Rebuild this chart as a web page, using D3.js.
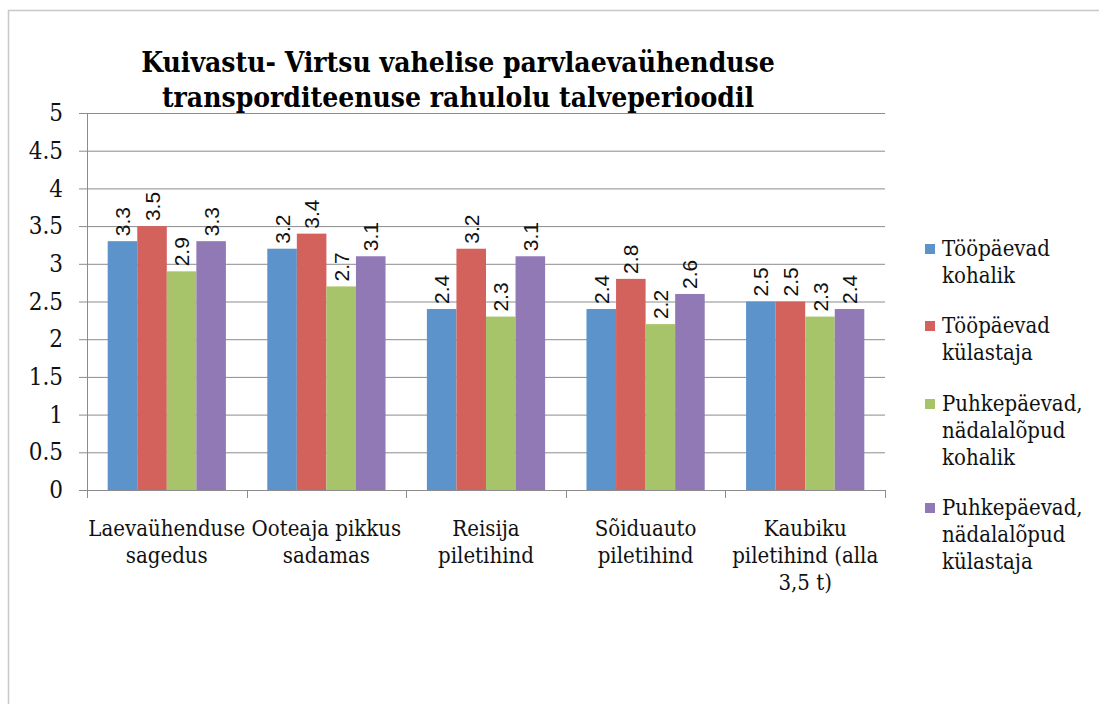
<!DOCTYPE html>
<html lang="et">
<head>
<meta charset="utf-8">
<script src="https://d3js.org/d3.v7.min.js"></script>
<style>
  body { margin: 0; background: #fff; }
  svg { display: block; }
  .serif { font-family: "DejaVu Serif Condensed", "DejaVu Serif", serif; font-stretch: condensed; }
  .sans { font-family: "Liberation Sans", Arial, sans-serif; }
</style>
</head>
<body>
<svg id="chart" width="1099" height="704"></svg>
<script>
// data
const categories = [
  ["Laevaühenduse", "sagedus"],
  ["Ooteaja pikkus", "sadamas"],
  ["Reisija", "piletihind"],
  ["Sõiduauto", "piletihind"],
  ["Kaubiku", "piletihind (alla", "3,5 t)"]
];
const seriesNames = [
  ["Tööpäevad", "kohalik"],
  ["Tööpäevad", "külastaja"],
  ["Puhkepäevad,", "nädalalõpud", "kohalik"],
  ["Puhkepäevad,", "nädalalõpud", "külastaja"]
];
const tookohalik   = [3.3, 3.2, 2.4, 2.4, 2.5];
const tookylastaja = [3.5, 3.4, 3.2, 2.8, 2.5];
const puhkkohalik  = [2.9, 2.7, 2.3, 2.2, 2.3];
const puhkkylastaja = [3.3, 3.1, 3.1, 2.6, 2.4];
const series = [tookohalik, tookylastaja, puhkkohalik, puhkkylastaja];
const yTicks = [0, 0.5, 1, 1.5, 2, 2.5, 3, 3.5, 4, 4.5, 5];
const colors = ["#5b93ca", "#d3625c", "#a8c46a", "#9179b5"];

const svg = d3.select("#chart");

// outer frame
svg.append("path")
  .attr("d", "M8.5,704 V10.5 H1099")
  .attr("fill", "none").attr("stroke", "#c8c8c8").attr("stroke-width", 1.5);

// title
const title = ["Kuivastu- Virtsu vahelise parvlaevaühenduse",
               "transporditeenuse rahulolu talveperioodil"];
svg.append("g").selectAll("text").data(title).join("text")
  .attr("class", "serif")
  .attr("x", 458).attr("y", (d, i) => 72 + i * 35)
  .attr("text-anchor", "middle")
  .attr("font-weight", "bold").attr("font-size", 28)
  .text(d => d);

const margin = { left: 87, right: 885, top: 113, bottom: 490 };

const x = d3.scaleBand().domain(d3.range(categories.length))
  .range([margin.left, margin.right]).paddingInner(0).paddingOuter(0);
const xs = d3.scaleBand().domain(d3.range(series.length))
  .range([0, x.bandwidth()]).paddingOuter(0.7).paddingInner(0);
const y = d3.scaleLinear().domain([0, 5]).range([margin.bottom, margin.top]);

// gridlines + y axis
const yAxis = svg.append("g").attr("transform", `translate(${margin.left},0)`)
  .call(d3.axisLeft(y).tickValues(yTicks).tickSize(8).tickFormat(d3.format("")));
yAxis.attr("font-family", null);
yAxis.select(".domain").remove();
yAxis.selectAll(".tick line").attr("stroke", "#8c8c8c");
yAxis.selectAll(".tick text")
  .attr("class", "serif")
  .attr("x", -24).attr("font-size", 24).attr("fill", "#111");
svg.append("g").selectAll("line").data(yTicks).join("line")
  .attr("x1", margin.left).attr("x2", margin.right)
  .attr("y1", d => y(d) + 0.5).attr("y2", d => y(d) + 0.5)
  .attr("stroke", "#8c8c8c").attr("stroke-width", 1);
svg.append("line")
  .attr("x1", margin.left + 0.5).attr("x2", margin.left + 0.5)
  .attr("y1", margin.top).attr("y2", margin.bottom)
  .attr("stroke", "#8c8c8c");

// x axis ticks
const xTickPos = d3.range(categories.length + 1).map(i => margin.left + i * x.bandwidth());
svg.append("g").selectAll("line").data(xTickPos).join("line")
  .attr("x1", d => Math.round(d) + 0.5).attr("x2", d => Math.round(d) + 0.5)
  .attr("y1", margin.bottom).attr("y2", margin.bottom + 8)
  .attr("stroke", "#8c8c8c");

// bars
const groups = svg.append("g").selectAll("g").data(categories).join("g")
  .attr("transform", (d, i) => `translate(${x(i)},0)`);
groups.each(function (c, ci) {
  const g = d3.select(this);
  series.forEach((s, si) => {
    g.append("rect")
      .attr("x", xs(si)).attr("width", xs.bandwidth())
      .attr("y", y(s[ci])).attr("height", y(0) - y(s[ci]))
      .attr("fill", colors[si]);
    const cx = xs(si) + xs.bandwidth() / 2 + 2;
    const ty = y(s[ci]) - 5;
    g.append("text")
      .attr("class", "sans")
      .attr("transform", `translate(${cx},${ty}) rotate(-90)`)
      .attr("dominant-baseline", "middle")
      .attr("font-size", 21).attr("fill", "#111")
      .text(d3.format(".1f")(s[ci]));
  });
});

// category labels
groups.append("text")
  .attr("class", "serif")
  .attr("text-anchor", "middle")
  .attr("font-size", 22).attr("fill", "#111")
  .selectAll("tspan").data(d => d).join("tspan")
  .attr("x", x.bandwidth() / 2)
  .attr("y", (d, i) => 536 + i * 27)
  .text(d => d);

// legend
const legendY = [253, 330, 408, 512];
const legend = svg.append("g").selectAll("g").data(seriesNames).join("g")
  .attr("transform", (d, i) => `translate(925,${legendY[i]})`);
legend.append("rect")
  .attr("x", 0).attr("y", -9).attr("width", 10).attr("height", 10)
  .attr("fill", (d, i) => colors[i]);
legend.append("text")
  .attr("class", "serif")
  .attr("font-size", 22).attr("fill", "#111")
  .selectAll("tspan").data(d => d).join("tspan")
  .attr("x", 17).attr("y", (d, i) => 3 + i * 27)
  .text(d => d);
</script>
</body>
</html>
